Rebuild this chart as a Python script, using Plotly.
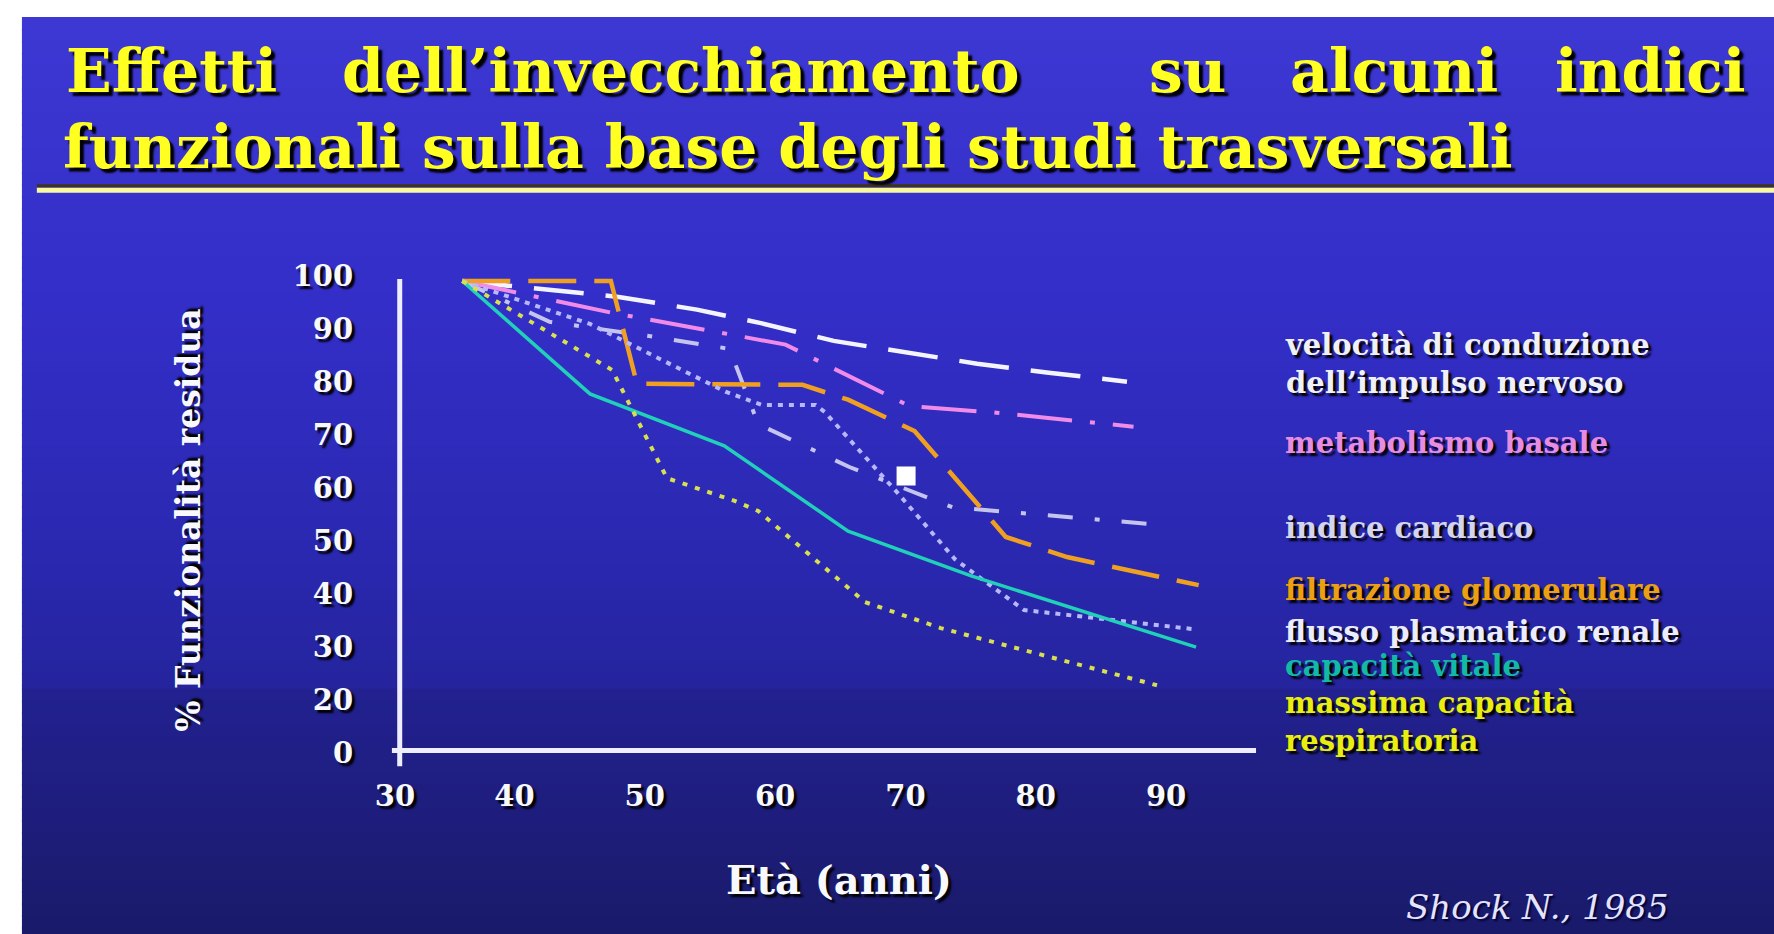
import plotly.graph_objects as go

W, H = 1774, 934

# ---------------- data ----------------
x_tick_vals = [30.84, 40, 50, 60, 70, 80, 90]
x_tick_text = ["30", "40", "50", "60", "70", "80", "90"]
y_tick_vals = [10, 20, 30, 40, 50, 60, 70, 80, 90, 100]
y_tick_text = ["0", "20", "30", "40", "50", "60", "70", "80", "90", "100"]

age_vel = [36, 48, 54, 59, 64.5, 70, 75.5, 81, 87]
vel = [99, 96, 93.6, 91, 87.7, 85.6, 83.4, 81.7, 80]

age_met = [36, 47.5, 60.8, 70.3, 77.2, 87.5]
met = [99, 93, 87, 75.4, 74.1, 71.5]

age_card = [36, 42.7, 50.1, 56.5, 58.7, 65.7, 73.6, 89.0]
card = [99, 91.3, 88.7, 86.2, 72.0, 63.9, 56.3, 53.1]

age_filt = [36, 47.4, 49.4, 62.1, 65.6, 70.7, 77.7, 82.4, 92.5]
filt = [99, 99, 79.6, 79.4, 76.6, 70.7, 50.7, 46.9, 41.6]

age_flu = [36, 45.8, 50.1, 56.2, 59.0, 63.1, 63.8, 69.4, 73.8, 79.1, 92.1]
flu = [99, 90.9, 85.6, 78.1, 75.6, 75.6, 74.3, 59.0, 46.5, 36.9, 33.3]

age_vit = [36, 45.8, 56.1, 65.6, 75.1, 92.3]
vit = [99, 77.7, 67.9, 51.8, 43.3, 29.9]

age_resp = [36, 47.5, 51.7, 56.9, 58.7, 66.9, 72.7, 89.3]
resp = [99, 82.2, 61.8, 57.5, 55.6, 38.4, 33.5, 22.7]

square_x = [70.05]
square_y = [62.2]

legend_lines = [
    ("velocità di conduzione<br>dell’impulso nervoso", 360, "#f0f0f8"),
    ("metabolismo basale", 440, "#e88ce2"),
    ("indice cardiaco", 525, "#d4d4ec"),
    ("filtrazione glomerulare", 588, "#eaa012"),
    ("flusso plasmatico renale", 630, "#ececff"),
    ("capacità vitale", 664, "#12b8a8"),
    ("massima capacità<br>respiratoria", 721, "#e8ee10"),
]

# ---------------- figure ----------------
fig = go.Figure()

series = [
    (age_vel, vel, "#f4f4ff", 4.5, "50px,22px"),
    (age_met, met, "#f08ce8", 4, "55px,18px,5px,18px"),
    (age_card, card, "#c4c4ee", 4, "25px,22px,5px,22px"),
    (age_filt, filt, "#f0a020", 4.5, "48px,18px"),
    (age_flu, flu, "#b8b8ff", 4, "5px,6px"),
    (age_vit, vit, "#20d0b8", 3.5, "solid"),
    (age_resp, resp, "#d8e050", 4, "5px,8px"),
]
for xs, ys, col, wdt, dash in series:
    fig.add_trace(go.Scatter(x=xs, y=ys, mode="lines",
                             line=dict(color=col, width=wdt, dash=dash),
                             hoverinfo="skip", showlegend=False))

fig.add_trace(go.Scatter(x=square_x, y=square_y, mode="markers",
                         marker=dict(symbol="square", size=19, color="#ffffff",
                                     line=dict(width=0)),
                         hoverinfo="skip", showlegend=False))

# ---------------- background gradient ----------------
stops = [(0, (62, 56, 212)), (300, (52, 46, 200)), (550, (42, 40, 176)),
         (686, (37, 36, 157)), (688, (34, 33, 144)), (934, (26, 26, 106))]


def col_at(py):
    for (a, ca), (b, cb) in zip(stops[:-1], stops[1:]):
        if a <= py <= b:
            t = (py - a) / (b - a)
            c = [round(ca[i] + (cb[i] - ca[i]) * t) for i in range(3)]
            return "rgb(%d,%d,%d)" % tuple(c)
    return "rgb(26,26,106)"


shapes = []
top, left = 11, 13
edges = list(range(top, 687, 12)) + [687] + list(range(699, H, 12)) + [H]
edges = sorted(set(edges))
for y0, y1 in zip(edges[:-1], edges[1:]):
    shapes.append(dict(type="rect", xref="paper", yref="paper",
                       x0=left / W, x1=1, y0=1 - min(y1 + 2, H) / H, y1=1 - y0 / H,
                       fillcolor=col_at((y0 + y1) / 2), line=dict(width=0),
                       layer="below"))

# title rule
shapes.append(dict(type="line", xref="paper", yref="paper",
                   x0=28 / W, x1=1, y0=1 - 181 / H, y1=1 - 181 / H,
                   line=dict(color="#403414", width=3), layer="above"))
shapes.append(dict(type="line", xref="paper", yref="paper",
                   x0=28 / W, x1=1, y0=1 - 185.5 / H, y1=1 - 185.5 / H,
                   line=dict(color="#f8f8a0", width=5), layer="above"))

# axes lines (in data coordinates)
shapes.append(dict(type="line", xref="x", yref="y", x0=31.2, x1=31.2,
                   y0=7.4, y1=99.4, line=dict(color="#eeeeff", width=5),
                   layer="above"))
shapes.append(dict(type="line", xref="x", yref="y", x0=30.6, x1=96.9,
                   y0=10.4, y1=10.4, line=dict(color="#eeeeff", width=5),
                   layer="above"))

# ---------------- texts ----------------
SH = "3px 3px 2px #000000"
title_font = dict(family="DejaVu Serif", size=60, color="#ffff22",
                  weight="bold", shadow="4px 4px 2px #000000")
ann = []
line1 = [("Effetti", 55, "left"), ("dell’invecchiamento", 333, "left"),
         ("su", 1144, "left"), ("alcuni", 1286, "left"), ("indici", 1748, "right")]
for txt, xp, anc in line1:
    ann.append(dict(text=txt, x=xp / W, y=1 - 65 / H, xref="paper", yref="paper",
                    xanchor=anc, yanchor="middle", showarrow=False, font=title_font))
ann.append(dict(text="funzionali sulla base degli studi trasversali",
                x=52 / W, y=1 - 142 / H, xref="paper", yref="paper",
                xanchor="left", yanchor="middle", showarrow=False, font=title_font))

for txt, yp, col in legend_lines:
    ann.append(dict(text=txt, x=1280 / W, y=1 - yp / H, xref="paper", yref="paper",
                    xanchor="left", yanchor="middle", align="left", showarrow=False,
                    font=dict(family="DejaVu Serif", size=29, color=col,
                              weight="bold", shadow=SH)))

ann.append(dict(text="% Funzionalità residua", x=181 / W, y=1 - 518 / H,
                xref="paper", yref="paper", textangle=-90, showarrow=False,
                xanchor="center", yanchor="middle",
                font=dict(family="DejaVu Serif", size=33, color="#f8f8ff",
                          weight="bold", shadow=SH)))
ann.append(dict(text="Età (anni)", x=834 / W, y=1 - 879 / H,
                xref="paper", yref="paper", showarrow=False,
                xanchor="center", yanchor="middle",
                font=dict(family="DejaVu Serif", size=40, color="#f8f8ff",
                          weight="bold", shadow=SH)))
ann.append(dict(text="Shock N., 1985", x=1536 / W, y=1 - 907 / H,
                xref="paper", yref="paper", showarrow=False,
                xanchor="center", yanchor="middle",
                font=dict(family="DejaVu Serif", size=34, color="#e4e4ff",
                          style="italic", shadow="2px 2px 2px #000030")))

tick_font = dict(family="DejaVu Serif", size=29, color="#f8f8ff",
                 weight="bold", shadow=SH)

y_lo = 6.0
y_bot_px = 751.4 + (10 - y_lo) * 5.333

fig.update_layout(
    width=W, height=H,
    margin=dict(l=0, r=0, t=0, b=0),
    paper_bgcolor="#ffffff",
    plot_bgcolor="rgba(0,0,0,0)",
    shapes=shapes,
    annotations=ann,
    showlegend=False,
    xaxis=dict(range=[30, 100], domain=[377 / W, 1294 / W],
               showgrid=False, zeroline=False, showline=False, ticks="",
               tickvals=x_tick_vals, ticktext=x_tick_text, tickfont=tick_font,
               ticklabelstandoff=2, fixedrange=True),
    yaxis=dict(range=[y_lo, 102], domain=[1 - y_bot_px / H, 1 - 260.8 / H],
               showgrid=False, zeroline=False, showline=False, ticks="",
               tickvals=y_tick_vals, ticktext=y_tick_text, tickfont=tick_font,
               ticklabelstandoff=30, fixedrange=True),
)

fig.write_html("out.html", config={"displayModeBar": False},
               post_script="document.body.style.margin='0px';"
                           "document.body.style.overflow='hidden';")
